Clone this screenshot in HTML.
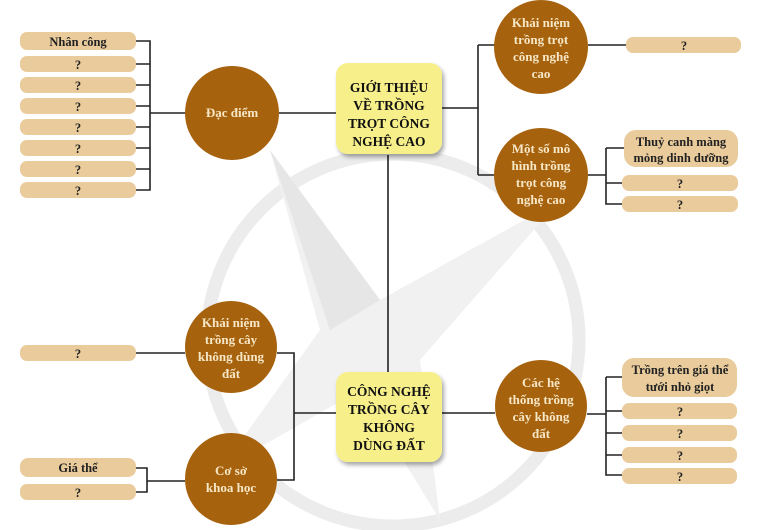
<!DOCTYPE html>
<html><head><meta charset="utf-8"><style>
html,body{margin:0;padding:0;background:#fff;}
svg{display:block;}
text{font-family:"Liberation Serif","Noto Serif CJK SC",serif;font-weight:bold;}
.c{fill:#a7620d;}
.ct{fill:#f6e7c6;font-size:13px;text-anchor:middle;}
.b{fill:#e9cb9c;}
.bt{fill:#222;font-size:12.5px;text-anchor:middle;}
.y{fill:#f7f08a;}
.yt{fill:#111;font-size:13.5px;text-anchor:middle;}
.l{stroke:#222;stroke-width:1.6;fill:none;}
</style></head><body>
<svg width="768" height="530" viewBox="0 0 768 530" xmlns="http://www.w3.org/2000/svg">
<defs>
<filter id="sh" x="-20%" y="-20%" width="150%" height="150%"><feDropShadow dx="2" dy="3" stdDeviation="2" flood-color="#000" flood-opacity="0.35"/></filter>
</defs>
<!-- watermark -->
<circle cx="393" cy="340" r="186" fill="none" stroke="#ececec" stroke-width="13"/>
<path d="M270 150 L380 300 L560 200 L420 360 L440 520 L360 390 L220 470 L320 330 Z" fill="#f1f1f1"/>
<path d="M270 150 L380 300 L330 330 Z" fill="#e6e6e6"/>
<!-- lines -->
<g class="l">
<path d="M136 41 H150 V190 H136 M136 64 H150 M136 85 H150 M136 106 H150 M136 127 H150 M136 148 H150 M136 169 H150 M150 113 H186 M279 113 H336"/>
<path d="M442 108 H478 M478 45 V175 M478 45 H495 M478 175 H495 M588 45 H626 M588 175 H606 M606 148 V204 H624 M606 148 H624 M606 183 H624"/>
<path d="M388 155 V372"/>
<path d="M136 353 H185 M277 353 H294 V480 H277 M294 413 H336 M136 468 H147 V492 H136 M147 481 H185"/>
<path d="M442 413 H495 M587 414 H606 M606 377 V475 H622 M606 377 H622 M606 411 H622 M606 433 H622 M606 455 H622"/>
</g>
<!-- left boxes -->
<rect class="b" x="20" y="32" width="116" height="18" rx="7"/><text class="bt" x="78" y="46">Nhân công</text>
<g>
<rect class="b" x="20" y="56" width="116" height="16" rx="7"/><text class="bt" x="78" y="69">?</text>
<rect class="b" x="20" y="77" width="116" height="16" rx="7"/><text class="bt" x="78" y="90">?</text>
<rect class="b" x="20" y="98" width="116" height="16" rx="7"/><text class="bt" x="78" y="111">?</text>
<rect class="b" x="20" y="119" width="116" height="16" rx="7"/><text class="bt" x="78" y="132">?</text>
<rect class="b" x="20" y="140" width="116" height="16" rx="7"/><text class="bt" x="78" y="153">?</text>
<rect class="b" x="20" y="161" width="116" height="16" rx="7"/><text class="bt" x="78" y="174">?</text>
<rect class="b" x="20" y="182" width="116" height="16" rx="7"/><text class="bt" x="78" y="195">?</text>
</g>
<circle class="c" cx="232" cy="113" r="47"/><text class="ct" x="232" y="117">Đạc điểm</text>
<!-- top yellow -->
<rect class="y" x="336" y="63" width="106" height="91" rx="12" filter="url(#sh)"/>
<text class="yt" x="389" y="92">GIỚI THIỆU</text><text class="yt" x="389" y="110">VỀ TRỒNG</text><text class="yt" x="389" y="128">TRỌT CÔNG</text><text class="yt" x="389" y="146">NGHỆ CAO</text>
<!-- top right -->
<circle class="c" cx="541" cy="47" r="47"/>
<text class="ct" x="541" y="27">Khái niệm</text><text class="ct" x="541" y="44">trồng trọt</text><text class="ct" x="541" y="61">công nghệ</text><text class="ct" x="541" y="78">cao</text>
<rect class="b" x="626" y="37" width="115" height="16" rx="7"/><text class="bt" x="684" y="50">?</text>
<circle class="c" cx="541" cy="175" r="47"/>
<text class="ct" x="541" y="153">Một số mô</text><text class="ct" x="541" y="170">hình trồng</text><text class="ct" x="541" y="187">trọt công</text><text class="ct" x="541" y="204">nghệ cao</text>
<rect class="b" x="624" y="130" width="114" height="37" rx="12"/><text class="bt" x="681" y="146">Thuỷ canh màng</text><text class="bt" x="681" y="162">mỏng dinh dưỡng</text>
<rect class="b" x="622" y="175" width="116" height="16" rx="7"/><text class="bt" x="680" y="188">?</text>
<rect class="b" x="622" y="196" width="116" height="16" rx="7"/><text class="bt" x="680" y="209">?</text>
<!-- bottom left -->
<rect class="b" x="20" y="345" width="116" height="16" rx="7"/><text class="bt" x="78" y="358">?</text>
<circle class="c" cx="231" cy="347" r="46"/>
<text class="ct" x="231" y="327">Khái niệm</text><text class="ct" x="231" y="344">trồng cây</text><text class="ct" x="231" y="361">không dùng</text><text class="ct" x="231" y="378">đất</text>
<rect class="b" x="20" y="458" width="116" height="19" rx="8"/><text class="bt" x="78" y="472">Giá thể</text>
<rect class="b" x="20" y="484" width="116" height="16" rx="7"/><text class="bt" x="78" y="497">?</text>
<circle class="c" cx="231" cy="479" r="46"/>
<text class="ct" x="231" y="475">Cơ sở</text><text class="ct" x="231" y="492">khoa học</text>
<!-- bottom yellow -->
<rect class="y" x="336" y="372" width="106" height="90" rx="12" filter="url(#sh)"/>
<text class="yt" x="389" y="396">CÔNG NGHỆ</text><text class="yt" x="389" y="414">TRỒNG CÂY</text><text class="yt" x="389" y="432">KHÔNG</text><text class="yt" x="389" y="450">DÙNG ĐẤT</text>
<!-- bottom right -->
<circle class="c" cx="541" cy="406" r="46"/>
<text class="ct" x="541" y="387">Các hệ</text><text class="ct" x="541" y="404">thống trồng</text><text class="ct" x="541" y="421">cây không</text><text class="ct" x="541" y="438">đất</text>
<rect class="b" x="622" y="358" width="115" height="39" rx="12"/><text class="bt" x="680" y="374">Trồng trên giá thể</text><text class="bt" x="680" y="391">tưới nhỏ giọt</text>
<rect class="b" x="622" y="403" width="115" height="16" rx="7"/><text class="bt" x="680" y="416">?</text>
<rect class="b" x="622" y="425" width="115" height="16" rx="7"/><text class="bt" x="680" y="438">?</text>
<rect class="b" x="622" y="447" width="115" height="16" rx="7"/><text class="bt" x="680" y="460">?</text>
<rect class="b" x="622" y="468" width="115" height="16" rx="7"/><text class="bt" x="680" y="481">?</text>
</svg>
</body></html>
